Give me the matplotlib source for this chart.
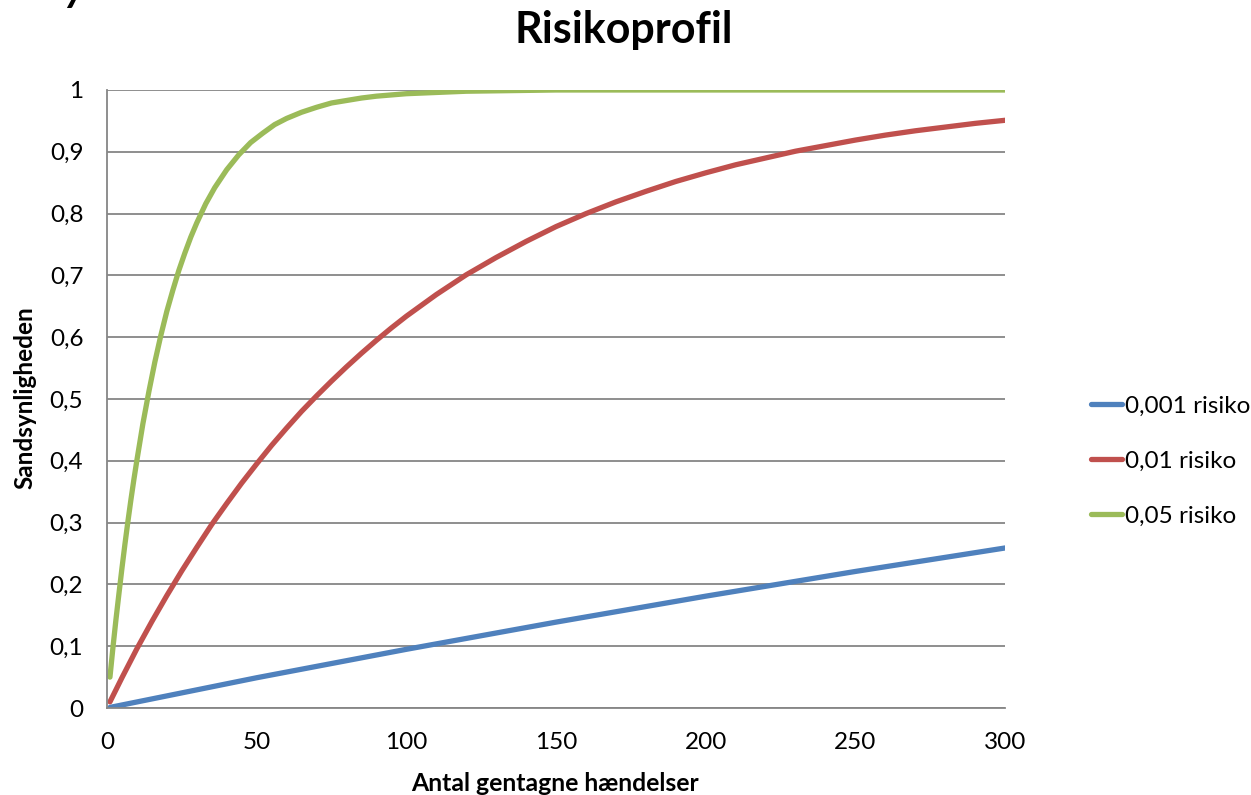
import matplotlib.pyplot as plt
import matplotlib.ticker as mticker

plt.rcParams['font.family'] = ['Lato', 'DejaVu Sans']

# values (antal gentagne haendelser -> sandsynlighed)
n_green = [1, 2, 3, 4, 5, 6, 7, 8, 9, 10, 12, 14, 16, 18, 20, 22, 24, 26, 28, 30, 33, 36, 40, 44, 48,
           52, 56, 60, 65, 70, 75, 80, 85, 90, 95, 100, 110, 120, 135, 150, 200, 250, 300]
p_green = [0.05, 0.098, 0.143, 0.185, 0.226, 0.265, 0.302, 0.337, 0.37, 0.401, 0.46, 0.512, 0.56, 0.603,
           0.642, 0.676, 0.708, 0.736, 0.762, 0.785, 0.816, 0.842, 0.871, 0.895, 0.915, 0.93, 0.944, 0.954,
           0.964, 0.972, 0.979, 0.983, 0.987, 0.99, 0.992, 0.994, 0.996, 0.998, 0.999, 1.0, 1.0, 1.0, 1.0]

n_red = [1, 5, 10, 15, 20, 25, 30, 35, 40, 45, 50, 55, 60, 65, 70, 75, 80, 85, 90, 95, 100, 110, 120,
         130, 140, 150, 160, 170, 180, 190, 200, 210, 220, 230, 240, 250, 260, 270, 280, 290, 300]
p_red = [0.01, 0.049, 0.096, 0.14, 0.182, 0.222, 0.26, 0.297, 0.331, 0.364, 0.395, 0.425, 0.453, 0.48,
         0.505, 0.529, 0.552, 0.574, 0.595, 0.615, 0.634, 0.669, 0.701, 0.729, 0.755, 0.779, 0.8, 0.819,
         0.836, 0.852, 0.866, 0.879, 0.89, 0.901, 0.91, 0.919, 0.927, 0.934, 0.94, 0.946, 0.951]

n_blue = [1, 50, 100, 150, 200, 250, 300]
p_blue = [0.001, 0.049, 0.095, 0.139, 0.181, 0.221, 0.259]

labels = ["0,001 risiko", "0,01 risiko", "0,05 risiko"]
colors = ["#4f81bd", "#c0504d", "#9bbb59"]

fig = plt.figure(figsize=(12.51, 7.95), dpi=100)
ax = fig.add_axes([0.0855, 0.1094, 0.718, 0.7774])

ax.plot(n_blue, p_blue, color=colors[0], lw=3.8, label=labels[0], solid_capstyle='round')
ax.plot(n_red, p_red, color=colors[1], lw=3.8, label=labels[1], solid_capstyle='round')
ax.plot(n_green, p_green, color=colors[2], lw=3.8, label=labels[2], solid_capstyle='round')

ax.set_xlim(0, 300)
ax.set_ylim(0, 1)
ax.set_xticks([0, 50, 100, 150, 200, 250, 300])
ax.set_yticks([i / 10 for i in range(11)])
ax.yaxis.set_major_formatter(mticker.FuncFormatter(
    lambda v, pos: "0" if v == 0 else ("1" if v == 1 else f"{v:.1f}".replace(".", ","))))
ax.tick_params(length=0, labelsize=17.5, pad=17)
ax.grid(axis='y', color='#868686', lw=1.3)
ax.set_axisbelow(True)
for s in ['top', 'right']:
    ax.spines[s].set_visible(False)
for s in ['left', 'bottom']:
    ax.spines[s].set_color('#868686')
    ax.spines[s].set_linewidth(1.3)

fig.text(0.499, 0.962, "Risikoprofil", fontsize=31, fontweight='bold', ha='center', va='center')
fig.text(0.444, 0.015, "Antal gentagne hændelser", fontsize=17.8, fontweight='bold', ha='center', va='center')
fig.text(0.02, 0.5, "Sandsynligheden", fontsize=17.5, fontweight='bold', ha='center', va='center',
         rotation=90)

fig.legend(loc='center left', bbox_to_anchor=(0.872, 0.42), frameon=False, fontsize=17.5,
           handlelength=1.3, handletextpad=0.12, labelspacing=1.4, borderaxespad=0, borderpad=0)

# cut-off letter in the top left corner
fig.text(0.052, 1.014, "y", fontsize=30, fontweight='bold', style='italic', va='center')

fig.savefig("out.png", dpi=100)
